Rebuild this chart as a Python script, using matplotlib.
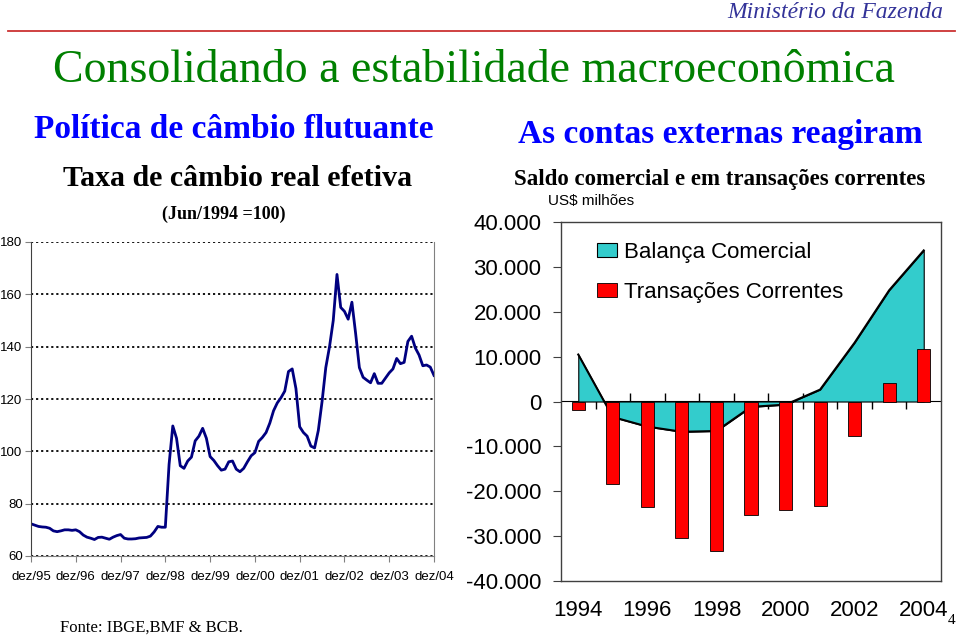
import matplotlib
matplotlib.use('Agg')
import matplotlib.pyplot as plt
from matplotlib.lines import Line2D
import numpy as np

# taxa de cambio real efetiva, mensal dez/95 .. dez/04 (Jun/1994 = 100)
cambio = [72.3, 71.8, 71.3, 71.1, 71.0, 70.6, 69.6, 69.3, 69.6, 70.0, 70.0, 69.8,
          70.0, 69.3, 68.0, 67.2, 66.8, 66.3, 67.1, 67.2, 66.8, 66.4, 67.2, 67.8,
          68.2, 66.8, 66.5, 66.5, 66.6, 66.9, 67.0, 67.1, 67.6, 69.2, 71.3, 71.0,
          71.0, 95.0, 109.7, 105.0, 94.5, 93.5, 96.3, 97.8, 104.0, 105.8, 108.8, 105.0,
          98.0, 96.5, 94.5, 92.8, 93.2, 96.0, 96.3, 93.2, 92.2, 93.5, 96.0, 98.3,
          99.5, 103.8, 105.3, 107.2, 110.8, 115.5, 118.5, 120.5, 123.0, 130.5, 131.5, 124.0,
          109.4, 107.2, 105.8, 102.0, 101.3, 108.0, 119.0, 132.0, 140.0, 150.0, 167.6, 155.0,
          153.5, 150.5, 157.0, 145.0, 132.0, 128.3, 127.2, 126.2, 129.7, 126.0, 126.0, 128.0,
          130.0, 131.5, 135.5, 133.5, 134.0, 142.0, 144.0, 139.5, 136.8, 132.7, 133.0, 132.2,
          129.0]
cambio_ticks = ['dez/95', 'dez/96', 'dez/97', 'dez/98', 'dez/99', 'dez/00',
                'dez/01', 'dez/02', 'dez/03', 'dez/04']

# contas externas, US$ milhoes
anos = [1994, 1995, 1996, 1997, 1998, 1999, 2000, 2001, 2002, 2003, 2004]
balanca = [10466, -3466, -5599, -6753, -6575, -1199, -698, 2650, 13121, 24794, 33666]
transacoes = [-1811, -18384, -23502, -30452, -33416, -25335, -24225, -23215, -7637, 4177, 11738]

W, H = 960, 641
fig = plt.figure(figsize=(W / 100, H / 100), dpi=100)
fig.patch.set_facecolor('white')

def fx(px):
    return px / W

def fy(py):
    return 1 - py / H

serif = 'Liberation Serif'
sans = 'Liberation Sans'

# cabecalho
fig.text(fx(943), fy(13), 'Ministério da Fazenda', family=serif, style='italic',
         fontsize=17, color='#333399', ha='right', va='center')
fig.add_artist(Line2D([fx(8), fx(955)], [fy(30.5), fy(30.5)], color='#cc3333', lw=1.3))
fig.text(fx(474), fy(71), 'Consolidando a estabilidade macroeconômica', family=serif,
         fontsize=33, color='#008000', ha='center', va='center')
fig.text(fx(234), fy(130), 'Política de câmbio flutuante', family=serif, weight='bold',
         fontsize=24, color='#0000ff', ha='center', va='center')
fig.text(fx(720), fy(135), 'As contas externas reagiram', family=serif, weight='bold',
         fontsize=24, color='#0000ff', ha='center', va='center')
fig.text(fx(238), fy(178), 'Taxa de câmbio real efetiva', family=serif, weight='bold',
         fontsize=21.5, color='black', ha='center', va='center')
fig.text(fx(224), fy(214), '(Jun/1994 =100)', family=serif, weight='bold',
         fontsize=13, color='black', ha='center', va='center')
fig.text(fx(720), fy(179), 'Saldo comercial e em transações correntes', family=serif,
         weight='bold', fontsize=16.5, color='black', ha='center', va='center')
fig.text(fx(548), fy(201), 'US$ milhões', family=sans, fontsize=11, color='black',
         ha='left', va='center')
fig.text(fx(60), fy(628), 'Fonte: IBGE,BMF & BCB.', family=serif, fontsize=12,
         color='black', ha='left', va='center')
fig.text(fx(952), fy(620), '4', family=serif, fontsize=11, color='black',
         ha='center', va='center')

# grafico da esquerda: cambio
ax1 = fig.add_axes([fx(31), fy(556), (434 - 31) / W, (556 - 242) / H])
meses = np.arange(len(cambio))
ax1.plot(meses, cambio, color='#000080', lw=2)
ax1.set_xlim(0, 108)
ax1.set_ylim(60, 180)
ax1.set_yticks(range(60, 181, 20))
ax1.set_xticks(range(0, 109, 12))
ax1.set_xticklabels(cambio_ticks)
ax1.grid(axis='y', color='black', linestyle=(0, (1.2, 1.6)), lw=1.3)
ax1.set_axisbelow(True)
ax1.tick_params(labelsize=9.5, length=4, color='#808080', pad=2)
ax1.tick_params(axis='x', pad=7)
for lab in ax1.get_xticklabels() + ax1.get_yticklabels():
    lab.set_family(sans)
ax1.spines['top'].set_visible(False)
ax1.spines['left'].set_color('#404040')
ax1.spines['bottom'].set_color('#808080')
ax1.spines['right'].set_color('#808080')

# grafico da direita: contas externas
ax2 = fig.add_axes([fx(561), fy(581), (941 - 561) / W, (581 - 222) / H])
pos = np.arange(len(anos))
ax2.fill_between(pos, balanca, 0, facecolor='#33cccc', edgecolor='black', lw=0.8,
                 label='Balança Comercial', zorder=2)
ax2.plot(pos, balanca, color='black', lw=1.5, zorder=3)
ax2.bar(pos, transacoes, width=0.38, color='#ff0000', edgecolor='black', lw=0.6,
        label='Transações Correntes', zorder=4)
ax2.set_xlim(-0.5, len(anos) - 0.5)
ax2.set_ylim(-40000, 40000)
ax2.set_yticks(range(-40000, 40001, 10000))
ax2.set_yticklabels([f'{v:,}'.replace(',', '.') for v in range(-40000, 40001, 10000)])
ax2.set_xticks(pos[::2])
ax2.set_xticklabels([str(a) for a in anos[::2]])
ax2.tick_params(axis='x', length=0, pad=14)
ax2.tick_params(axis='y', length=6, pad=8, color='#404040')
ax2.tick_params(labelsize=16)
for lab in ax2.get_xticklabels() + ax2.get_yticklabels():
    lab.set_family(sans)
for s in ax2.spines.values():
    s.set_color('#404040')
    s.set_linewidth(1.0)

zero = ax2.secondary_xaxis(0.5)
zero.set_xticks(pos[:-1] + 0.5)
zero.set_xticklabels([])
zero.tick_params(direction='inout', length=12, color='black', width=1)
zero.spines['bottom'].set_color('black')
zero.spines['bottom'].set_linewidth(1.0)

leg = ax2.legend(loc='upper left', bbox_to_anchor=(0.042, 1.0), frameon=False,
                 prop={'family': sans, 'size': 16}, handlelength=0.9, handleheight=0.6,
                 handletextpad=0.3, labelspacing=0.85)

fig.savefig('out.png', dpi=100, facecolor='white')
